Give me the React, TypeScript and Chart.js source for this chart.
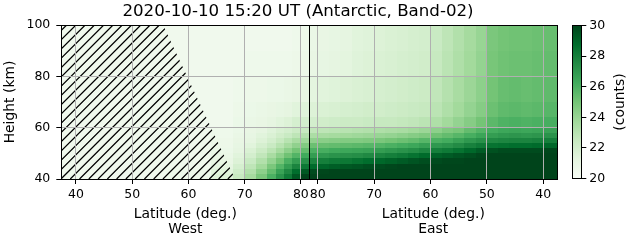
import React, { useEffect, useRef } from 'react';
import { Chart, registerables } from 'chart.js';

Chart.register(...registerables);

const TITLE = '2020-10-10 15:20 UT (Antarctic, Band-02)';
const Y_TITLE = 'Height (km)';
const WEST_TITLE = ['Latitude (deg.)', 'West'];
const EAST_TITLE = ['Latitude (deg.)', 'East'];
const CB_TITLE = '(counts)';

const VMIN = 20;
const VMAX = 30;

// height band edges (km), bottom to top
const heightEdges = [40, 42, 44, 46, 48, 50, 52, 54, 56, 58, 60, 64, 70, 80, 90, 100];

// West panel latitude bin edges (deg), and East panel edges
const westLatEdges = [37.4, 56, 64, 68, 70, 72, 74, 75.5, 77, 78.5, 80, 81.5];
const eastLatEdges = [81.5, 80, 78, 76, 74, 72, 70, 68, 66, 64, 62, 60, 58, 56, 54, 52, 50, 48, 46, 44, 42, 40, 37.5];

// counts, one row per height band (bottom to top), one value per latitude bin
const westCounts = [
  [20.5, 20.6, 21.6, 22.5, 23.6, 24.8, 26.0, 27.2, 28.2, 29.4, 30.0],
  [20.5, 20.6, 21.4, 22.2, 23.2, 24.3, 25.4, 26.6, 27.6, 28.7, 29.4],
  [20.5, 20.5, 21.2, 21.9, 22.8, 23.7, 24.8, 25.8, 26.8, 27.8, 28.3],
  [20.5, 20.5, 21.0, 21.6, 22.4, 23.2, 24.1, 25.0, 26.0, 26.8, 27.3],
  [20.5, 20.5, 20.9, 21.4, 22.0, 22.7, 23.5, 24.3, 25.1, 25.8, 26.3],
  [20.5, 20.5, 20.8, 21.2, 21.7, 22.3, 22.9, 23.6, 24.3, 25.0, 25.4],
  [20.5, 20.5, 20.7, 21.1, 21.4, 21.9, 22.4, 23.0, 23.6, 24.2, 24.6],
  [20.5, 20.5, 20.7, 21.0, 21.2, 21.6, 22.0, 22.5, 23.0, 23.5, 23.8],
  [20.5, 20.5, 20.6, 20.9, 21.1, 21.4, 21.7, 22.1, 22.4, 22.8, 23.1],
  [20.5, 20.5, 20.6, 20.8, 21.0, 21.2, 21.5, 21.8, 22.0, 22.3, 22.5],
  [20.5, 20.5, 20.5, 20.8, 20.9, 21.0, 21.2, 21.4, 21.6, 21.9, 22.0],
  [20.5, 20.5, 20.5, 20.7, 20.8, 20.9, 21.0, 21.1, 21.2, 21.4, 21.5],
  [20.5, 20.5, 20.5, 20.6, 20.7, 20.7, 20.8, 20.8, 20.9, 21.0, 21.0],
  [20.5, 20.5, 20.5, 20.5, 20.6, 20.6, 20.6, 20.6, 20.6, 20.7, 20.7],
  [20.5, 20.5, 20.5, 20.5, 20.5, 20.5, 20.5, 20.5, 20.5, 20.6, 20.6],
];

const eastCounts = [
  [30, 30, 30, 30, 30, 30, 30, 30, 30, 30, 30, 30, 30, 30, 30, 30, 30, 30, 30, 30, 30, 30],
  [29.8, 29.9, 30, 30, 30, 30, 30, 30, 30, 30, 30, 30, 30, 30, 30, 30, 30, 30, 30, 30, 30, 30],
  [28.8, 29.0, 29.2, 29.4, 29.5, 29.7, 29.8, 29.9, 30, 30, 30, 30, 30, 30, 30, 30, 30, 30, 30, 30, 30, 30],
  [27.8, 28.0, 28.2, 28.3, 28.5, 28.7, 28.9, 29.1, 29.3, 29.5, 29.7, 29.8, 29.9, 29.9, 30, 30, 30, 30, 30, 30, 30, 30],
  [26.8, 27.0, 27.2, 27.3, 27.4, 27.6, 27.8, 28.0, 28.2, 28.5, 28.8, 29.1, 29.3, 29.5, 29.7, 29.9, 30, 30, 30, 30, 30, 30],
  [26.0, 26.1, 26.3, 26.4, 26.5, 26.6, 26.8, 27.0, 27.2, 27.4, 27.7, 28.0, 28.2, 28.5, 28.9, 29.3, 29.6, 29.8, 29.8, 29.8, 29.8, 29.9],
  [25.2, 25.3, 25.4, 25.5, 25.6, 25.7, 25.8, 26.0, 26.2, 26.4, 26.7, 27.0, 27.2, 27.5, 27.9, 28.2, 28.5, 28.6, 28.7, 28.7, 28.8, 28.9],
  [24.2, 24.4, 24.5, 24.6, 24.6, 24.7, 24.8, 25.0, 25.2, 25.4, 25.7, 26.0, 26.2, 26.6, 27.0, 27.3, 27.6, 27.7, 27.8, 27.8, 27.9, 28.0],
  [23.4, 23.5, 23.6, 23.7, 23.8, 23.9, 24.0, 24.1, 24.3, 24.5, 24.7, 25.1, 25.4, 25.7, 26.1, 26.5, 26.8, 27.0, 27.1, 27.0, 27.1, 27.2],
  [22.7, 22.8, 22.9, 23.0, 23.1, 23.2, 23.3, 23.4, 23.5, 23.7, 23.9, 24.3, 24.7, 24.9, 25.4, 25.8, 26.2, 26.4, 26.5, 26.4, 26.5, 26.6],
  [22.0, 22.1, 22.2, 22.3, 22.3, 22.4, 22.5, 22.5, 22.6, 22.7, 22.9, 23.3, 23.7, 24.1, 24.5, 25.0, 25.6, 25.9, 26.0, 25.9, 26.0, 26.1],
  [21.6, 21.7, 21.8, 21.9, 22.0, 22.1, 22.1, 22.2, 22.3, 22.4, 22.5, 22.9, 23.3, 23.7, 24.1, 24.5, 25.2, 25.5, 25.6, 25.5, 25.6, 25.7],
  [21.3, 21.4, 21.5, 21.6, 21.7, 21.8, 21.9, 22.0, 22.1, 22.2, 22.3, 22.7, 23.1, 23.5, 23.9, 24.3, 25.0, 25.3, 25.4, 25.3, 25.4, 25.5],
  [21.0, 21.1, 21.2, 21.3, 21.5, 21.6, 21.7, 21.8, 21.9, 22.0, 22.1, 22.5, 22.9, 23.3, 23.7, 24.1, 24.9, 25.1, 25.2, 25.2, 25.3, 25.4],
  [20.9, 21.0, 21.1, 21.2, 21.4, 21.5, 21.6, 21.7, 21.8, 21.9, 22.0, 22.4, 22.8, 23.2, 23.6, 24.0, 24.8, 25.0, 25.1, 25.1, 25.2, 25.3],
];

// no-data (hatched) region outline in West panel
const hatchLat = [37.4, 55.5, 68.3, 37.4];
const hatchHeight = [100, 100, 40, 40];

const westTicks = [40, 50, 60, 70, 80];
const eastTicks = [80, 70, 60, 50, 40];
const heightTicks = [40, 60, 80, 100];
const colorbarTicks = [20, 22, 24, 26, 28, 30];

const greens = ['#f7fcf5', '#e5f5e0', '#c7e9c0', '#a1d99b', '#74c476', '#41ab5d', '#238b45', '#006d2c', '#00441b'];

const FONT = '"DejaVu Sans", sans-serif';
Chart.defaults.font.family = FONT;
Chart.defaults.color = '#000';

function hexToRgb(h: string): number[] {
  return [parseInt(h.slice(1, 3), 16), parseInt(h.slice(3, 5), 16), parseInt(h.slice(5, 7), 16)];
}

function colorFor(v: number): string {
  const t = Math.min(1, Math.max(0, (v - VMIN) / (VMAX - VMIN)));
  const pos = t * (greens.length - 1);
  const i = Math.min(greens.length - 2, Math.floor(pos));
  const f = pos - i;
  const a = hexToRgb(greens[i]);
  const b = hexToRgb(greens[i + 1]);
  const c = a.map((av, k) => Math.round(av + (b[k] - av) * f));
  return `rgb(${c[0]},${c[1]},${c[2]})`;
}

function paintCells(ctx: CanvasRenderingContext2D, xs: any, ys: any, latEdges: number[], rows: number[][]) {
  for (let r = 0; r < rows.length; r++) {
    const yTop = Math.round(ys.getPixelForValue(heightEdges[r + 1]));
    const yBot = Math.round(ys.getPixelForValue(heightEdges[r]));
    for (let c = 0; c < rows[r].length; c++) {
      const xa = xs.getPixelForValue(latEdges[c]);
      const xb = xs.getPixelForValue(latEdges[c + 1]);
      const l = Math.round(Math.min(xa, xb));
      const rr = Math.round(Math.max(xa, xb));
      ctx.fillStyle = colorFor(rows[r][c]);
      ctx.fillRect(l, yTop, rr - l, yBot - yTop);
    }
  }
}

const HATCH_STEP = 9.27;
const HATCH_PHASE = 8.25;

const heatmapPlugin = {
  id: 'heatmap',
  beforeDraw(chart: any) {
    const { ctx, chartArea } = chart;
    const ys = chart.scales.y;
    const xw = chart.scales.xw;
    const xe = chart.scales.xe;
    ctx.save();
    ctx.beginPath();
    ctx.rect(chartArea.left, chartArea.top, chartArea.right - chartArea.left, chartArea.bottom - chartArea.top);
    ctx.clip();
    paintCells(ctx, xw, ys, westLatEdges, westCounts);
    paintCells(ctx, xe, ys, eastLatEdges, eastCounts);

    // hatch over no-data area
    ctx.beginPath();
    hatchLat.forEach((lat, i) => {
      const px = xw.getPixelForValue(lat);
      const py = ys.getPixelForValue(hatchHeight[i]);
      if (i === 0) ctx.moveTo(px, py);
      else ctx.lineTo(px, py);
    });
    ctx.closePath();
    ctx.clip();
    ctx.strokeStyle = '#000';
    ctx.lineWidth = 1.25;
    ctx.beginPath();
    const top = chartArea.top;
    const bottom = chartArea.bottom;
    for (let s = HATCH_PHASE; s < chartArea.right + bottom + 20; s += HATCH_STEP) {
      ctx.moveTo(s - bottom, bottom);
      ctx.lineTo(s - top, top);
    }
    ctx.stroke();
    ctx.restore();
  },
  afterDraw(chart: any) {
    const { ctx, chartArea } = chart;
    const xw = chart.scales.xw;
    ctx.save();
    ctx.strokeStyle = '#000';
    ctx.lineWidth = 1;
    const L = Math.floor(chartArea.left) + 0.5;
    const R = Math.floor(chartArea.right) + 0.5;
    const T = Math.floor(chartArea.top) + 0.5;
    const B = Math.floor(chartArea.bottom) + 0.5;
    ctx.strokeRect(L, T, R - L, B - T);
    const mid = Math.floor(xw.right) + 0.5;
    ctx.beginPath();
    ctx.moveTo(mid, T);
    ctx.lineTo(mid, B);
    ctx.stroke();
    // figure title
    ctx.fillStyle = '#000';
    ctx.font = `16.67px ${FONT}`;
    ctx.textAlign = 'center';
    ctx.textBaseline = 'middle';
    ctx.fillText(TITLE, 298, 11.5);
    ctx.restore();
  },
};

const colorbarPlugin = {
  id: 'cbox',
  afterDraw(chart: any) {
    const { ctx, chartArea } = chart;
    ctx.save();
    ctx.strokeStyle = '#000';
    ctx.lineWidth = 1;
    const L = Math.floor(chartArea.left) + 0.5;
    const R = Math.floor(chartArea.right) + 0.5;
    const T = Math.floor(chartArea.top) + 0.5;
    const B = Math.floor(chartArea.bottom) + 0.5;
    ctx.strokeRect(L, T, R - L, B - T);
    ctx.translate(60.2, (chartArea.top + chartArea.bottom) / 2);
    ctx.rotate(-Math.PI / 2);
    ctx.fillStyle = '#000';
    ctx.font = `13.9px ${FONT}`;
    ctx.textAlign = 'center';
    ctx.textBaseline = 'middle';
    ctx.fillText(CB_TITLE, 0, 0);
    ctx.restore();
  },
};

const tickFont = { size: 12.5, family: FONT };
const labelFont = { size: 13.9, family: FONT, lineHeight: 1.115 };

function xScale(ticks: number[], title: string[], reverse: boolean, min: number, max: number) {
  return {
    type: 'linear',
    position: 'bottom',
    stack: 'lat',
    stackWeight: 1,
    min,
    max,
    reverse,
    afterFit: (s: any) => { s.height = 64; },
    afterBuildTicks: (s: any) => { s.ticks = ticks.map((v) => ({ value: v })); },
    ticks: { font: tickFont, color: '#000', padding: 3.5, maxRotation: 0, autoSkip: false, callback: (v: any) => String(v) },
    grid: { color: '#b0b0b0', lineWidth: 1, tickColor: '#000', tickLength: 5, drawTicks: true },
    border: { display: false },
    title: { display: true, text: title, color: '#000', font: labelFont, padding: { top: 0, bottom: 5.75 } },
  };
}

export default function App() {
  const mainRef = useRef<HTMLCanvasElement>(null);
  const cbRef = useRef<HTMLCanvasElement>(null);

  useEffect(() => {
    if (!mainRef.current || !cbRef.current) return;
    const main = new Chart(mainRef.current, {
      type: 'scatter',
      data: { datasets: [{ data: [], xAxisID: 'xw', yAxisID: 'y' }] },
      options: {
        animation: false,
        responsive: false,
        devicePixelRatio: 1,
        layout: { padding: { left: 0, right: 38.7, top: 25, bottom: 0 } },
        plugins: {
          legend: { display: false },
          tooltip: { enabled: false },
          title: { display: false },
        },
        scales: {
          xw: xScale(westTicks, WEST_TITLE, false, 37.4, 81.5),
          xe: xScale(eastTicks, EAST_TITLE, true, 37.5, 81.5),
          y: {
            type: 'linear',
            position: 'left',
            min: 40,
            max: 100,
            afterFit: (s: any) => { s.width = 61.3; },
            afterBuildTicks: (s: any) => { s.ticks = heightTicks.map((v) => ({ value: v })); },
            ticks: { font: tickFont, color: '#000', padding: 6, callback: (v: any) => String(v) },
            grid: { color: '#b0b0b0', lineWidth: 1, tickColor: '#000', tickLength: 5 },
            border: { display: false },
            title: { display: true, text: Y_TITLE, color: '#000', font: { size: 13.9, family: FONT }, padding: { top: 2, bottom: 0 } },
          },
        },
      } as any,
      plugins: [heatmapPlugin],
    });

    const cb = new Chart(cbRef.current, {
      type: 'bar',
      data: {
        labels: ['counts'],
        datasets: [{
          data: [[VMIN, VMAX]] as any,
          borderWidth: 0,
          barPercentage: 1,
          categoryPercentage: 1,
          backgroundColor: (c: any) => {
            const chart = c.chart;
            if (!chart.chartArea) return greens[4];
            const ys = chart.scales.y;
            const g = chart.ctx.createLinearGradient(0, ys.getPixelForValue(VMIN), 0, ys.getPixelForValue(VMAX));
            greens.forEach((col, i) => g.addColorStop(i / (greens.length - 1), col));
            return g;
          },
        }],
      },
      options: {
        animation: false,
        responsive: false,
        devicePixelRatio: 1,
        layout: { padding: { left: 12.5, top: 25.5, bottom: 64.5, right: 0 } },
        plugins: { legend: { display: false }, tooltip: { enabled: false }, title: { display: false } },
        scales: {
          x: { display: false },
          y: {
            type: 'linear',
            position: 'right',
            min: VMIN,
            max: VMAX,
            afterFit: (s: any) => { s.width = 49.7; },
            afterBuildTicks: (s: any) => { s.ticks = colorbarTicks.map((v) => ({ value: v })); },
            ticks: { font: tickFont, color: '#000', padding: 3, callback: (v: any) => String(v) },
            grid: { drawOnChartArea: false, tickColor: '#000', tickLength: 5, color: '#000' },
            border: { display: false },
          },
        },
      } as any,
      plugins: [colorbarPlugin],
    });

    return () => {
      main.destroy();
      cb.destroy();
    };
  }, []);

  return (
    <div style={{ position: 'fixed', left: 0, top: 0, width: 631, height: 243, background: '#fff' }}>
      <canvas ref={mainRef} width={596} height={243} style={{ position: 'absolute', left: 0, top: 0, width: 596, height: 243 }} />
      <canvas ref={cbRef} width={71} height={243} style={{ position: 'absolute', left: 560, top: 0, width: 71, height: 243 }} />
    </div>
  );
}
